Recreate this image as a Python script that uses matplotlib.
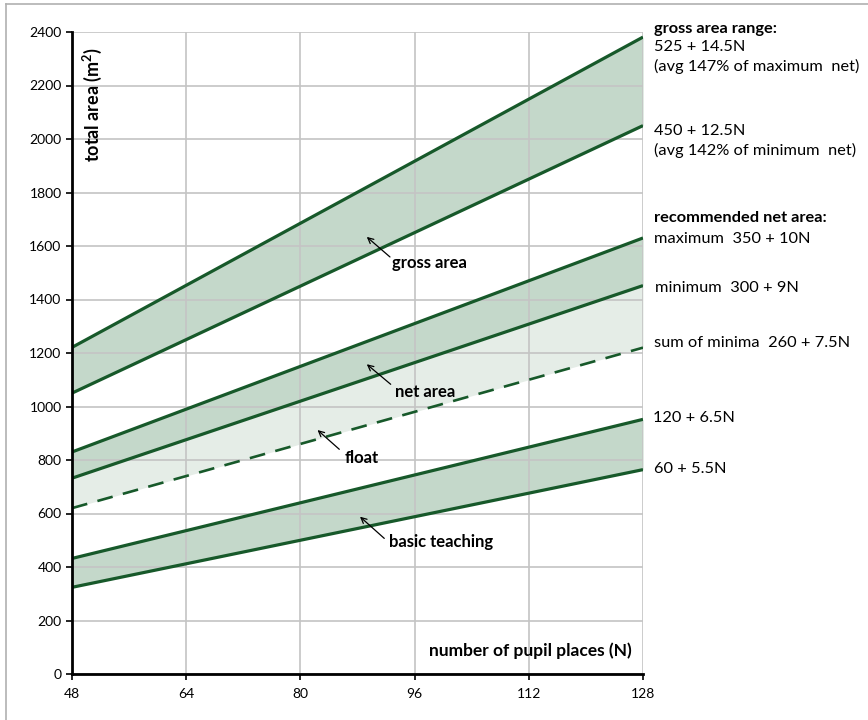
import numpy as np
import matplotlib
matplotlib.use('Agg')
import matplotlib.pyplot as plt
from matplotlib.lines import Line2D

plt.rcParams['font.family'] = ['Lato', 'DejaVu Sans']

# N values at the two ends of the chart
n_ends = [48, 128]
# area (m2) read at N=48 and N=128
gross_max = [1221, 2381]
gross_min = [1050, 2050]
net_max = [830, 1630]
net_min = [732, 1452]
sum_minima = [620, 1220]
teach_max = [432, 952]
teach_min = [324, 764]

x_ticks = [48, 64, 80, 96, 112, 128]
y_ticks = [0, 200, 400, 600, 800, 1000, 1200, 1400, 1600, 1800, 2000, 2200, 2400]

line_col = '#17592a'
band_col = '#c4d8ca'
float_col = '#e5ede7'

W, H = 868, 720
fig = plt.figure(figsize=(W/100, H/100), dpi=100)
ax = fig.add_axes([72/W, 1-674/H, 571/W, 642/H])

# shaded bands
ax.fill_between(n_ends, gross_min, gross_max, color=band_col, lw=0, zorder=0.2)
ax.fill_between(n_ends, net_min, net_max, color=band_col, lw=0, zorder=0.2)
ax.fill_between(n_ends, sum_minima, net_min, color=float_col, lw=0, zorder=0.2)
ax.fill_between(n_ends, teach_min, teach_max, color=band_col, lw=0, zorder=0.2)

for s in [gross_max, gross_min, net_max, net_min, teach_max, teach_min]:
    ax.plot(n_ends, s, color=line_col, lw=2.3, zorder=3, solid_capstyle='butt')
ax.plot(n_ends, sum_minima, color=line_col, lw=1.9, ls=(0, (6, 4)), zorder=3)

ax.set_xlim(48, 128)
ax.set_ylim(0, 2400)
ax.set_xticks(x_ticks)
ax.set_yticks(y_ticks)
ax.set_axisbelow(True)
ax.grid(True, color='#c4c4c4', lw=1.2)
for sp in ['top', 'right']:
    ax.spines[sp].set_visible(False)
for sp in ['left', 'bottom']:
    ax.spines[sp].set_linewidth(2)
    ax.spines[sp].set_color('black')
    ax.spines[sp].set_zorder(4)
ax.tick_params(axis='both', labelsize=10, length=4, width=1.2, color='black')
ax.tick_params(axis='x', pad=6)

# in-chart labels
ax.text(50.8, 2344, 'total area (m$^\\mathregular{2}$)', rotation=90, ha='center', va='top',
        fontsize=13, fontweight='bold')
ax.text(126.45, 86, 'number of pupil places (N)', ha='right', va='center',
        fontsize=12.5, fontweight='bold')

arrows = [
    ('gross area', (89.3, 1634), (92.55, 1559), (92.9, 1536)),
    ('net area', (89.3, 1158), (92.65, 1083), (93.25, 1055)),
    ('float', (82.4, 912), (85.45, 840), (86.25, 809)),
    ('basic teaching', (88.35, 588), (91.75, 507), (92.45, 492)),
]
for txt, head, tail, pos in arrows:
    ax.annotate('', xy=head, xytext=tail,
                arrowprops=dict(arrowstyle='->', color='black', lw=0.9,
                                shrinkA=0, shrinkB=0), zorder=5)
    ax.text(pos[0], pos[1], txt, ha='left', va='center', fontsize=12, fontweight='bold', zorder=5)

# right-hand notes (figure pixels)
notes = [
    (654, 29, 'gross area range:', 'bold'),
    (654, 47, '525 + 14.5N', 'normal'),
    (654, 66, '(avg 147% of maximum  net)', 'normal'),
    (654, 131, '450 + 12.5N', 'normal'),
    (654, 150, '(avg 142% of minimum  net)', 'normal'),
    (654, 218, 'recommended net area:', 'bold'),
    (654, 239, 'maximum  350 + 10N', 'normal'),
    (655, 288, 'minimum  300 + 9N', 'normal'),
    (654, 343, 'sum of minima  260 + 7.5N', 'normal'),
    (653, 418, '120 + 6.5N', 'normal'),
    (654, 469, '60 + 5.5N', 'normal'),
]
for px, py, txt, w in notes:
    fig.text(px/W, 1-py/H, txt, ha='left', va='center', fontsize=11.8, fontweight=w)

# outer frame (top and left edges)
fig.add_artist(Line2D([6/W, 6/W], [0, 1-4/H], color='#b0b0b0', lw=1.2))
fig.add_artist(Line2D([6/W, 1], [1-4/H, 1-4/H], color='#b0b0b0', lw=1.2))

fig.savefig('out.png', dpi=100)
